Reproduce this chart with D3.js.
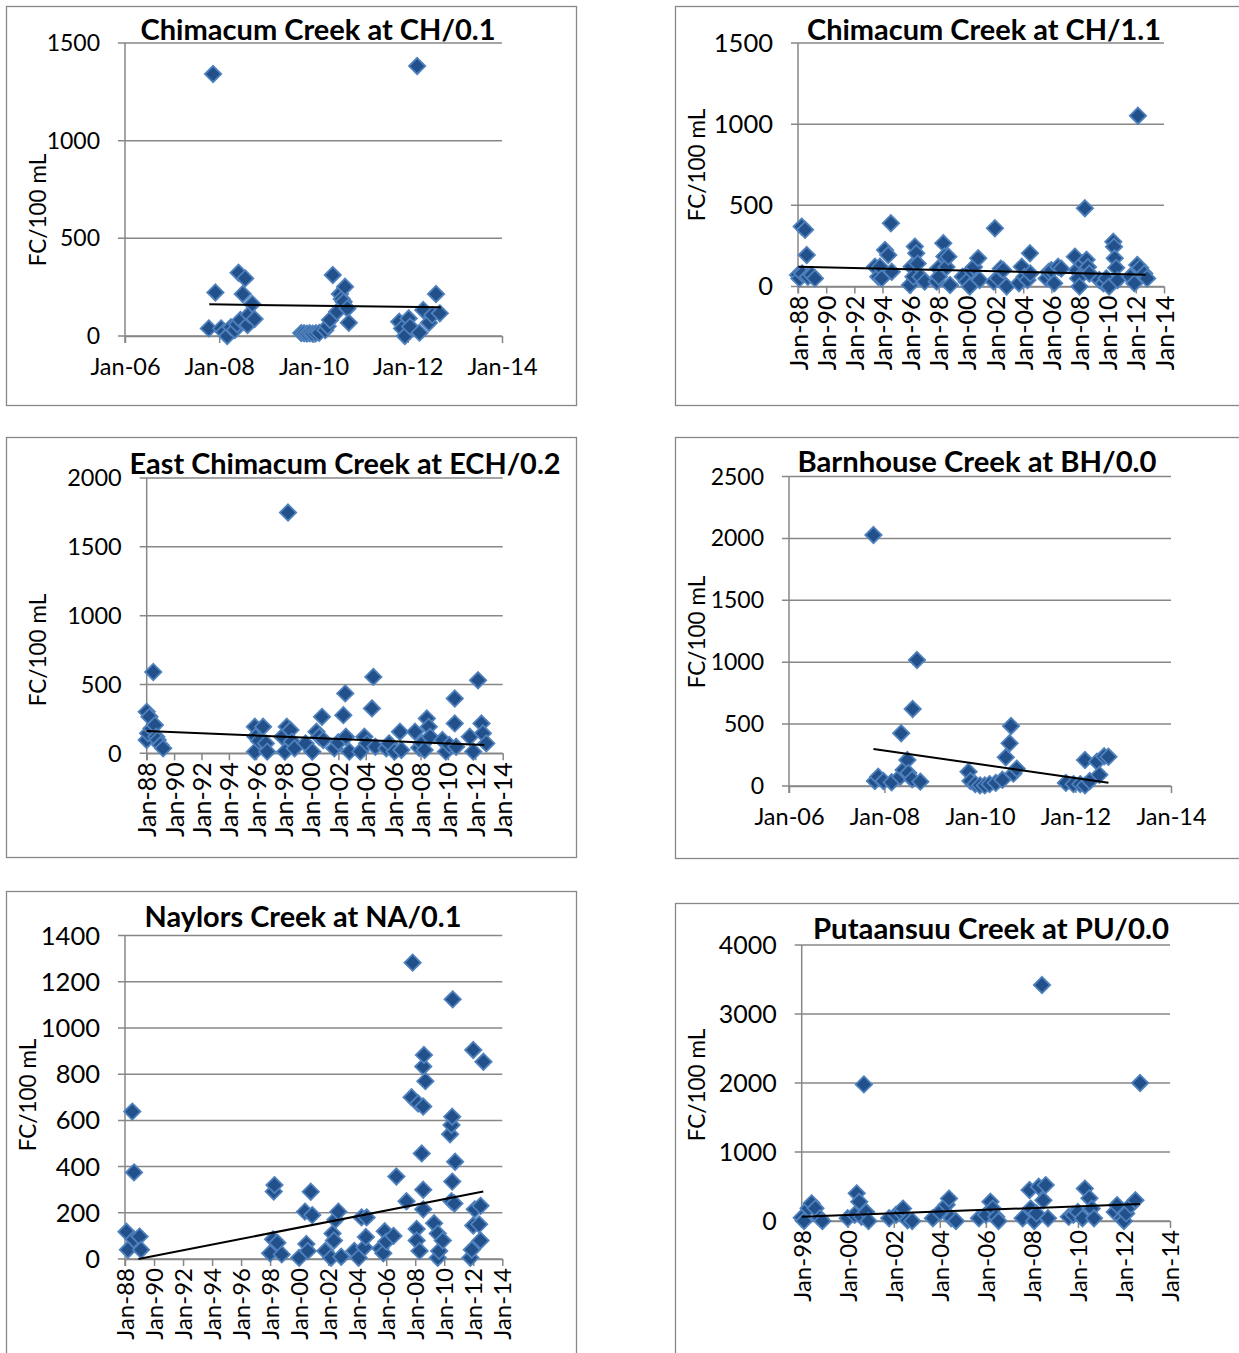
<!DOCTYPE html>
<html lang="en">
<head>
<meta charset="utf-8">
<title>Fecal coliform by station</title>
<script src="https://cdn.jsdelivr.net/npm/d3@7"></script>
<style>
  body { margin: 0; background: #fff; }
  svg { font-family: Lato, "Open Sans", sans-serif; }
</style>
</head>
<body>
<div id="drawing"></div>
<script>

// station values, [decimal year, FC/100 mL]
var ch01 = [[2007.78,39],[2007.92,223],[2008.04,39],[2008.1,20],[2008.17,0],[2008.25,45],[2008.33,31],[2008.38,60],
  [2008.41,324],[2008.45,82],[2008.5,215],[2008.55,295],[2008.6,56],[2008.63,110],[2008.7,164],[2008.75,87],[2007.87,1341],
  [2009.74,15],[2009.8,14],[2009.86,12],[2009.92,14],[2009.98,12],[2010.05,14],[2010.12,16],[2010.25,30],[2010.3,50],
  [2010.35,82],[2010.41,312],[2010.5,124],[2010.56,215],[2010.6,190],[2010.64,175],[2010.67,252],[2010.72,141],[2010.75,68],
  [2011.82,73],[2011.88,39],[2011.94,0],[2012.02,90],[2012.05,48],[2012.2,1382],[2012.25,17],[2012.33,133],[2012.45,68],
  [2012.52,107],[2012.6,215],[2012.68,116]];
var ch01Trend = [[2007.79,162],[2012.7,147]];

var ch11 = [[1988.0,71],[1988.1,50],[1988.26,369],[1988.3,80],[1988.5,349],[1988.62,194],[1988.7,60],[1988.97,71],[1989.2,50],
  [1993.47,122],[1993.7,60],[1993.82,122],[1993.94,50],[1994.18,225],[1994.41,194],[1994.6,390],[1994.66,91],
  [1995.95,9],[1996.07,122],[1996.2,60],[1996.3,246],[1996.4,205],[1996.5,141],[1996.7,60],[1997.0,30],
  [1997.85,30],[1997.96,112],[1998.0,60],[1998.32,267],[1998.4,185],[1998.55,120],[1998.68,184],[1998.8,9],
  [1999.7,60],[1999.98,30],[2000.2,0],[2000.3,100],[2000.5,120],[2000.8,174],[2000.9,40],
  [2001.9,30],[2001.99,359],[2002.2,50],[2002.4,110],[2002.58,102],[2002.82,0],
  [2003.7,20],[2003.9,122],[2004.1,60],[2004.3,40],[2004.48,205],[2004.5,80],
  [2005.66,50],[2005.8,90],[2006.0,100],[2006.2,20],[2006.48,122],[2006.7,110],
  [2007.67,184],[2007.8,100],[2007.9,50],[2008.0,0],[2008.2,140],[2008.38,482],[2008.5,165],[2008.6,120],[2008.7,80],
  [2009.4,40],[2009.7,20],[2009.9,50],[2010.1,0],[2010.4,276],[2010.45,245],[2010.5,174],[2010.6,115],[2010.7,40],
  [2011.6,60],[2011.9,20],[2012.1,133],[2012.15,1052],[2012.3,115],[2012.6,80],[2012.8,50]];
var ch11Trend = [[1988.02,122],[2012.7,73]];

var ech02 = [[1988.0,301],[1988.0,97],[1988.1,145],[1988.2,265],[1988.35,180],[1988.48,591],[1988.6,205],[1988.7,120],
  [1988.8,97],[1989.0,60],[1989.2,36],
  [1995.9,193],[1995.95,120],[1995.9,12],[1996.2,90],[1996.5,193],[1996.7,72],[1996.8,12],
  [1997.9,120],[1998.1,12],[1998.23,193],[1998.32,1749],[1998.5,169],[1998.6,85],[1998.8,36],
  [1999.6,72],[2000.1,12],[2000.4,157],[2000.6,120],[2000.8,265],[2000.9,97],
  [2001.7,36],[2002.0,80],[2002.36,277],[2002.5,435],[2002.55,120],[2002.8,12],
  [2003.6,12],[2003.9,120],[2004.1,72],[2004.45,326],[2004.55,555],[2004.7,48],
  [2005.5,36],[2005.7,72],[2006.1,12],[2006.5,157],[2006.6,24],
  [2007.6,157],[2007.9,40],[2008.1,72],[2008.3,24],[2008.46,253],[2008.6,193],[2008.7,120],
  [2009.6,97],[2009.85,12],[2010.1,60],[2010.5,398],[2010.5,217],[2010.6,48],
  [2011.6,120],[2011.85,12],[2012.2,531],[2012.45,217],[2012.55,145],[2012.8,72]];
var ech02Trend = [[1988.0,162],[2012.66,60]];

var bh00 = [[2007.77,2027],[2007.8,40],[2007.87,75],[2007.98,40],[2008.15,30],[2008.33,75],[2008.35,426],[2008.4,130],
  [2008.48,210],[2008.5,105],[2008.58,55],[2008.59,622],[2008.68,1018],[2008.75,35],
  [2009.76,115],[2009.8,40],[2009.9,15],[2010.0,5],[2010.1,5],[2010.2,15],[2010.33,25],[2010.47,50],[2010.54,232],
  [2010.62,345],[2010.65,485],[2010.7,100],[2010.77,140],
  [2011.8,25],[2011.96,15],[2012.1,15],[2012.2,210],[2012.2,5],[2012.3,40],[2012.45,196],[2012.5,90],[2012.6,240],[2012.69,236]];
var bh00Trend = [[2007.77,299],[2012.69,27]];

var na01 = [[1988.1,118],[1988.2,40],[1988.5,638],[1988.6,85],[1988.62,375],[1989.0,97],[1989.1,40],
  [1998.0,25],[1998.2,85],[1998.25,292],[1998.3,320],[1998.5,70],[1998.8,20],
  [2000.0,5],[2000.4,205],[2000.5,65],[2000.6,35],[2000.8,291],[2000.9,190],
  [2001.8,35],[2002.2,5],[2002.3,110],[2002.4,80],[2002.5,170],[2002.7,205],[2002.9,10],
  [2003.8,35],[2004.1,5],[2004.3,180],[2004.5,50],[2004.6,95],[2004.65,180],
  [2005.6,45],[2005.8,25],[2005.9,120],[2006.0,75],[2006.5,100],[2006.7,357],
  [2007.4,250],[2007.75,700],[2007.82,1283],[2008.1,130],[2008.1,80],[2008.2,673],[2008.3,35],[2008.45,457],
  [2008.55,660],[2008.55,833],[2008.6,883],[2008.7,770],[2008.55,300],[2008.55,215],
  [2009.3,155],[2009.55,110],[2009.55,5],[2009.65,35],[2009.9,80],[2010.4,540],[2010.5,580],[2010.55,616],
  [2010.58,1124],[2010.55,335],[2010.5,250],[2010.7,240],[2010.75,421],
  [2011.8,5],[2011.9,40],[2012.0,145],[2012.0,905],[2012.1,215],[2012.4,150],[2012.5,230],[2012.5,80],[2012.7,854]];
var na01Trend = [[1988.92,0],[2012.69,292]];

var pu00 = [[1998.0,48],[1998.1,0],[1998.3,184],[1998.43,256],[1998.6,184],[1998.8,39],[1998.9,0],
  [2000.0,40],[2000.3,90],[2000.39,401],[2000.5,280],[2000.6,60],[2000.7,1980],[2000.8,130],[2000.9,0],
  [2001.8,40],[2002.1,90],[2002.3,130],[2002.4,180],[2002.6,10],[2002.8,0],
  [2003.7,40],[2004.0,130],[2004.3,235],[2004.4,325],[2004.5,40],[2004.7,0],
  [2005.7,40],[2006.0,90],[2006.2,280],[2006.3,180],[2006.45,60],[2006.55,0],
  [2007.6,40],[2007.9,449],[2007.95,180],[2008.1,0],[2008.2,110],[2008.3,497],[2008.44,3420],[2008.5,300],[2008.6,520],[2008.7,40],
  [2009.6,60],[2009.8,90],[2010.0,130],[2010.2,40],[2010.3,470],[2010.5,330],[2010.6,180],[2010.7,40],
  [2011.6,130],[2011.7,230],[2011.9,40],[2012.0,0],[2012.1,110],[2012.3,230],[2012.5,300],[2012.7,2000]];
var pu00Trend = [[1998.0,62],[2012.7,246]];

var titles = ['Chimacum Creek at CH/0.1', 'Chimacum Creek at CH/1.1', 'East Chimacum Creek at ECH/0.2',
  'Barnhouse Creek at BH/0.0', 'Naylors Creek at NA/0.1', 'Putaansuu Creek at PU/0.0'];
var yearRanges = [[2006,2014],[1988,2014],[1988,2014],[2006,2014],[1988,2014],[1998,2014]];
var yTicks = [[0,500,1000,1500],[0,500,1000,1500],[0,500,1000,1500,2000],[0,500,1000,1500,2000,2500],
  [0,200,400,600,800,1000,1200,1400],[0,1000,2000,3000,4000]];
var yLabel = 'FC/100 mL';

// panel placement on the page (tw = title width, fy/fx = tick font sizes)
var panels = [
  { data: ch01,  trend: ch01Trend,  box: [6,6,570,399],   plot: [125,43,502,336],      rotate: false, title: [318,30],  tw: 355, yt: [38,210],  fy: 23,   fx: 23.5 },
  { data: ch11,  trend: ch11Trend,  box: [675,6,570,399], plot: [798,43,1164,286.5],   rotate: true,  title: [984,30],  tw: 354, yt: [697,165], fy: 25.5, fx: 25 },
  { data: ech02, trend: ech02Trend, box: [6,437,570,420], plot: [146.7,478,502.7,753.3], rotate: true, title: [345,464], tw: 431, yt: [38,650], fy: 23.5, fx: 25 },
  { data: bh00,  trend: bh00Trend,  box: [675,437,570,421], plot: [789,476.5,1171,786], rotate: false, title: [977,462], tw: 359, yt: [697,632], fy: 23,   fx: 23.5 },
  { data: na01,  trend: na01Trend,  box: [6,891,570,480], plot: [125,935.6,502.3,1259],  rotate: true,  title: [303,917], tw: 317, yt: [28,1095], fy: 25.5, fx: 24 },
  { data: pu00,  trend: pu00Trend,  box: [675,903,570,470], plot: [801.7,945,1170,1221], rotate: true,  title: [991,929], tw: 356, yt: [697,1085], fy: 25,  fx: 24 }
];

var grey = '#878787';

function toDate(y) {
  var yr = Math.floor(y);
  var a = new Date(yr, 0, 1), b = new Date(yr + 1, 0, 1);
  return new Date(+a + (y - yr) * (b - a));
}

var svg = d3.select('#drawing').append('svg').attr('width', 1239).attr('height', 1353);
var diamond = d3.symbol().type(d3.symbolDiamond2).size(170);

panels.forEach(function (p, i) {
  var g = svg.append('g');
  var x0 = p.plot[0], y0 = p.plot[1], x1 = p.plot[2], y1 = p.plot[3];
  var ticks = yTicks[i];

  g.append('rect')
    .attr('x', p.box[0] + 0.5).attr('y', p.box[1] + 0.5)
    .attr('width', p.box[2]).attr('height', p.box[3])
    .attr('fill', '#fff').attr('stroke', grey).attr('stroke-width', 1.3);

  var x = d3.scaleTime()
    .domain([new Date(yearRanges[i][0], 0, 1), new Date(yearRanges[i][1], 0, 1)])
    .range([x0, x1]);
  var y = d3.scaleLinear().domain([0, ticks[ticks.length - 1]]).range([y1, y0]);

  // gridlines + y ticks
  g.selectAll('.grid').data(ticks).enter().append('line')
    .attr('x1', x0 - 7).attr('x2', x1)
    .attr('y1', function (d) { return y(d); }).attr('y2', function (d) { return y(d); })
    .attr('stroke', grey).attr('stroke-width', 1.5);

  g.selectAll('.ylab').data(ticks).enter().append('text')
    .attr('x', x0 - 25).attr('y', function (d) { return y(d); })
    .attr('dy', '0.35em').attr('text-anchor', 'end')
    .attr('font-size', p.fy).attr('fill', '#000')
    .text(function (d) { return d; });

  // axes lines
  g.append('line').attr('x1', x0).attr('x2', x0).attr('y1', y0).attr('y2', y1 + 7)
    .attr('stroke', grey).attr('stroke-width', 1.5);

  var xt = d3.timeYear.every(2).range(x.domain()[0], d3.timeDay.offset(x.domain()[1], 1));
  var xAxis = d3.axisBottom(x).tickValues(xt).tickFormat(d3.timeFormat('%b-%y'))
    .tickSize(7).tickSizeOuter(0);
  var ax = g.append('g').attr('transform', 'translate(0,' + y1 + ')').call(xAxis);
  ax.select('.domain').attr('stroke', grey).attr('stroke-width', 1.5);
  ax.selectAll('.tick line').attr('stroke', grey).attr('stroke-width', 1.5);
  ax.selectAll('.tick text').attr('font-size', p.fx).attr('fill', '#000')
    .attr('font-family', 'Lato, "Open Sans", sans-serif');
  if (p.rotate) {
    ax.selectAll('.tick text')
      .attr('transform', 'rotate(-90)')
      .attr('text-anchor', 'end')
      .attr('x', -9).attr('y', 0).attr('dy', '0.36em');
  } else {
    ax.selectAll('.tick text').attr('y', 22).attr('dy', '0.71em');
  }

  // markers
  g.selectAll('.pt').data(p.data).enter().append('path')
    .attr('d', diamond)
    .attr('transform', function (d) { return 'translate(' + x(toDate(d[0])) + ',' + y(d[1]) + ')'; })
    .attr('fill', '#22508a').attr('stroke', '#4f81bd').attr('stroke-width', 1.8);

  // linear trend, drawn over the markers
  g.append('line')
    .attr('x1', x(toDate(p.trend[0][0]))).attr('y1', y(p.trend[0][1]))
    .attr('x2', x(toDate(p.trend[1][0]))).attr('y2', y(p.trend[1][1]))
    .attr('stroke', '#000').attr('stroke-width', 2);

  g.append('text')
    .attr('x', p.title[0]).attr('y', p.title[1]).attr('dy', '0.35em')
    .attr('text-anchor', 'middle').attr('font-size', 28).attr('font-weight', 'bold')
    .attr('textLength', p.tw).attr('lengthAdjust', 'spacingAndGlyphs')
    .text(titles[i]);

  g.append('text')
    .attr('transform', 'translate(' + p.yt[0] + ',' + p.yt[1] + ') rotate(-90)')
    .attr('text-anchor', 'middle').attr('dy', '0.35em')
    .attr('font-size', 22.5)
    .text(yLabel);
});

</script>
</body>
</html>
